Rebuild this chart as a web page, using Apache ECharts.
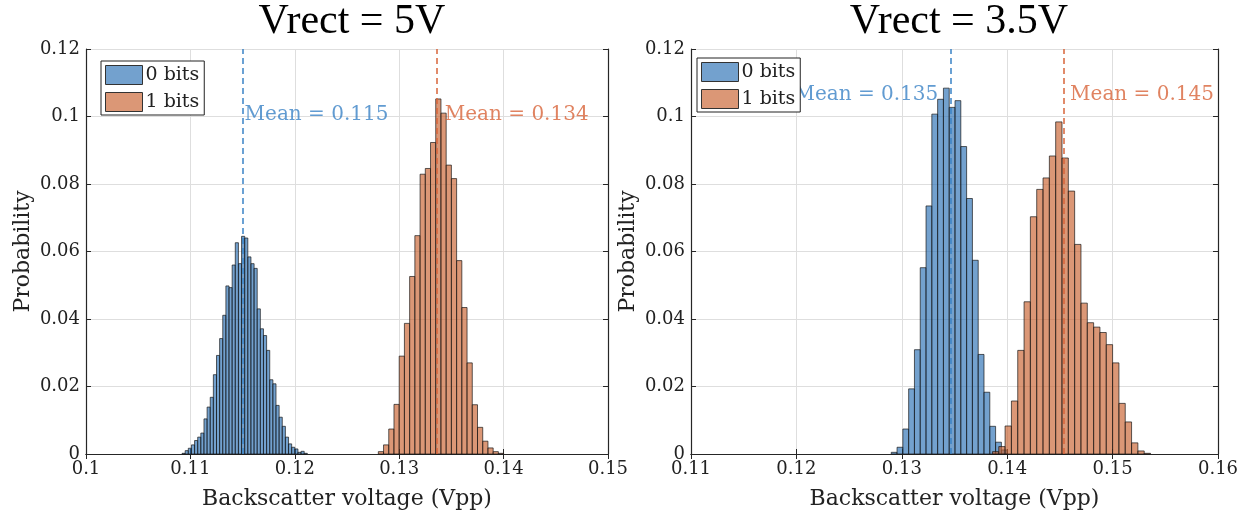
<!DOCTYPE html>
<html>
<head>
<meta charset="utf-8">
<script src="https://cdn.jsdelivr.net/npm/echarts@6/dist/echarts.min.js"></script>
<style>
  html, body { margin: 0; background: #fff; }
  #chart { width: 1249px; height: 518px; }
</style>
</head>
<body>
<div id="chart"></div>
<script>
// tick labels
var leftXTicks = [0.1, 0.11, 0.12, 0.13, 0.14, 0.15];
var rightXTicks = [0.11, 0.12, 0.13, 0.14, 0.15, 0.16];
var yTicks = [0, 0.02, 0.04, 0.06, 0.08, 0.1, 0.12];

var titles = ['Vrect = 5V', 'Vrect = 3.5V'];
var seriesNames = ['0 bits', '1 bits'];

// Vrect = 5V : histogram bins (first edge, bin width, probability per bin)
var left0Start = 0.1092, left0Width = 0.0003;
var left0Prob = [0.0002, 0.001, 0.0017, 0.0027, 0.004, 0.005, 0.0062, 0.0104, 0.0139, 0.0168,
  0.0235, 0.0292, 0.0342, 0.0411, 0.0498, 0.0493, 0.056, 0.0626, 0.0564, 0.0645,
  0.064, 0.0584, 0.0564, 0.055, 0.043, 0.0371, 0.0351, 0.0307, 0.022, 0.0208,
  0.0144, 0.0109, 0.0082, 0.005, 0.003, 0.002, 0.0015, 0.0005, 0.0008, 0.0002];
var left1Start = 0.128, left1Width = 0.0005;
var left1Prob = [0.0007, 0.0027, 0.0074, 0.0147, 0.029, 0.0387, 0.0526, 0.0647, 0.0829, 0.0846,
  0.0923, 0.1052, 0.101, 0.0856, 0.0816, 0.0573, 0.0434, 0.027, 0.0146, 0.0079,
  0.0038, 0.0018, 0.0007, 0.0002];

// Vrect = 3.5V
var right0Start = 0.129, right0Width = 0.00055;
var right0Prob = [0.0005, 0.002, 0.0074, 0.0193, 0.0309, 0.0552, 0.0735, 0.1007, 0.1051, 0.1084,
  0.1027, 0.1047, 0.0911, 0.0757, 0.0574, 0.0295, 0.0183, 0.0082, 0.0035, 0.0012];
var right1Start = 0.1386, right1Width = 0.0006;
var right1Prob = [0.0007, 0.0022, 0.0083, 0.0157, 0.0307, 0.0451, 0.0703, 0.0784, 0.0818, 0.0883,
  0.0984, 0.0877, 0.0779, 0.0621, 0.0447, 0.0389, 0.0376, 0.036, 0.0324, 0.027,
  0.015, 0.0095, 0.0033, 0.0009, 0.0002];

// means
var leftMeans = [0.115, 0.1336];
var rightMeans = [0.1346, 0.1454];

var FONT = 'DejaVu Serif';
var AX = '#262626';
var fills = ['rgba(40,110,180,0.65)', 'rgba(200,95,45,0.65)'];
var meanColors = ['#3A82C6', '#D8643A'];

function step(t) { return Math.round((t[1] - t[0]) * 1e6) / 1e6; }
function fmt(v) { return String(parseFloat(v.toFixed(3))); }

function histSeries(name, start, width, probs, k, idx) {
  var data = probs.map(function (p, i) {
    return [start + i * width, start + (i + 1) * width, p];
  });
  return {
    name: name,
    type: 'custom',
    xAxisIndex: idx,
    yAxisIndex: idx,
    itemStyle: { color: fills[k] },
    encode: { x: [0, 1], y: 2 },
    data: data,
    renderItem: function (params, api) {
      var a = api.coord([api.value(0), api.value(2)]);
      var b = api.coord([api.value(1), 0]);
      return {
        type: 'rect',
        shape: { x: a[0], y: a[1], width: b[0] - a[0], height: b[1] - a[1] },
        style: { fill: api.visual('color'), stroke: 'rgba(20,20,20,0.85)', lineWidth: 0.8 }
      };
    }
  };
}

function meanSeries(mean, k, idx, labelY, pos, dist) {
  return {
    type: 'scatter',
    xAxisIndex: idx,
    yAxisIndex: idx,
    symbolSize: 0,
    silent: true,
    z: 5,
    data: [[mean, labelY]],
    label: {
      show: true,
      position: pos,
      distance: dist,
      formatter: 'Mean = ' + mean.toFixed(3),
      color: meanColors[k],
      fontFamily: FONT,
      fontSize: 20
    },
    markLine: {
      silent: true,
      symbol: 'none',
      precision: 5,
      label: { show: false },
      lineStyle: { color: meanColors[k], type: [6, 4], width: 1.5 },
      data: [{ xAxis: mean }]
    }
  };
}

function bottomAxis(ticks, g) {
  return {
    type: 'value', gridIndex: g, position: 'bottom',
    min: ticks[0], max: ticks[ticks.length - 1], interval: step(ticks),
    name: 'Backscatter voltage (Vpp)', nameLocation: 'middle', nameGap: 34,
    nameTextStyle: { fontFamily: FONT, fontSize: 22, color: '#222' },
    axisLine: { show: true, lineStyle: { color: AX, width: 1.2 } },
    axisTick: { show: true, inside: true, length: 5, lineStyle: { color: AX } },
    axisLabel: { fontFamily: FONT, fontSize: 18, color: '#222', margin: 6, formatter: fmt },
    splitLine: { show: true, lineStyle: { color: '#dedede', width: 1 } }
  };
}
function topAxis(ticks, g) {
  return {
    type: 'value', gridIndex: g, position: 'top',
    min: ticks[0], max: ticks[ticks.length - 1], interval: step(ticks),
    axisLine: { show: true, lineStyle: { color: AX, width: 1.2 } },
    axisTick: { show: true, inside: true, length: 5, lineStyle: { color: AX } },
    axisLabel: { show: false },
    splitLine: { show: false }
  };
}
function leftAxis(g) {
  return {
    type: 'value', gridIndex: g, position: 'left',
    min: yTicks[0], max: yTicks[yTicks.length - 1], interval: step(yTicks),
    name: 'Probability', nameLocation: 'middle', nameGap: 52, nameRotate: 90,
    nameTextStyle: { fontFamily: FONT, fontSize: 22, color: '#222' },
    axisLine: { show: true, lineStyle: { color: AX, width: 1.2 } },
    axisTick: { show: true, inside: true, length: 5, lineStyle: { color: AX } },
    axisLabel: { fontFamily: FONT, fontSize: 18, color: '#222', margin: 6, formatter: fmt },
    splitLine: { show: true, lineStyle: { color: '#dedede', width: 1 } }
  };
}
function rightAxis(g) {
  return {
    type: 'value', gridIndex: g, position: 'right',
    min: yTicks[0], max: yTicks[yTicks.length - 1], interval: step(yTicks),
    axisLine: { show: true, lineStyle: { color: AX, width: 1.2 } },
    axisTick: { show: true, inside: true, length: 5, lineStyle: { color: AX } },
    axisLabel: { show: false },
    splitLine: { show: false }
  };
}
function legendBox(left, top) {
  return {
    orient: 'vertical',
    left: left, top: top,
    data: seriesNames,
    icon: 'rect',
    itemWidth: 37, itemHeight: 19, itemGap: 7,
    padding: [4, 5, 3, 4],
    backgroundColor: '#fff',
    borderColor: '#222', borderWidth: 1, borderRadius: 0,
    itemStyle: { borderColor: '#333', borderWidth: 1 },
    textStyle: { fontFamily: FONT, fontSize: 19, color: '#222', padding: [0, 0, 0, -2] },
    selectedMode: false,
    z: 10
  };
}

var chart = echarts.init(document.getElementById('chart'));
chart.setOption({
  animation: false,
  backgroundColor: '#fff',
  title: [
    { text: titles[0], left: 347, top: -4, textAlign: 'center',
      textStyle: { fontFamily: 'Liberation Serif', fontSize: 42, fontWeight: 'normal', color: '#000' } },
    { text: titles[1], left: 954, top: -4, textAlign: 'center',
      textStyle: { fontFamily: 'Liberation Serif', fontSize: 42, fontWeight: 'normal', color: '#000' } }
  ],
  legend: [legendBox(101, 61), legendBox(697, 58)],
  grid: [
    { left: 86, right: 641, top: 49, bottom: 64 },
    { left: 691, right: 31, top: 49, bottom: 64 }
  ],
  xAxis: [bottomAxis(leftXTicks, 0), bottomAxis(rightXTicks, 1), topAxis(leftXTicks, 0), topAxis(rightXTicks, 1)],
  yAxis: [leftAxis(0), leftAxis(1), rightAxis(0), rightAxis(1)],
  series: [
    histSeries(seriesNames[0], left0Start, left0Width, left0Prob, 0, 0),
    histSeries(seriesNames[1], left1Start, left1Width, left1Prob, 1, 0),
    histSeries(seriesNames[0], right0Start, right0Width, right0Prob, 0, 1),
    histSeries(seriesNames[1], right1Start, right1Width, right1Prob, 1, 1),
    meanSeries(leftMeans[0], 0, 0, 0.1004, 'right', 2),
    meanSeries(leftMeans[1], 1, 0, 0.1004, 'right', 8),
    meanSeries(rightMeans[0], 0, 1, 0.1064, 'left', 12),
    meanSeries(rightMeans[1], 1, 1, 0.1064, 'right', 6)
  ]
});
</script>
</body>
</html>
